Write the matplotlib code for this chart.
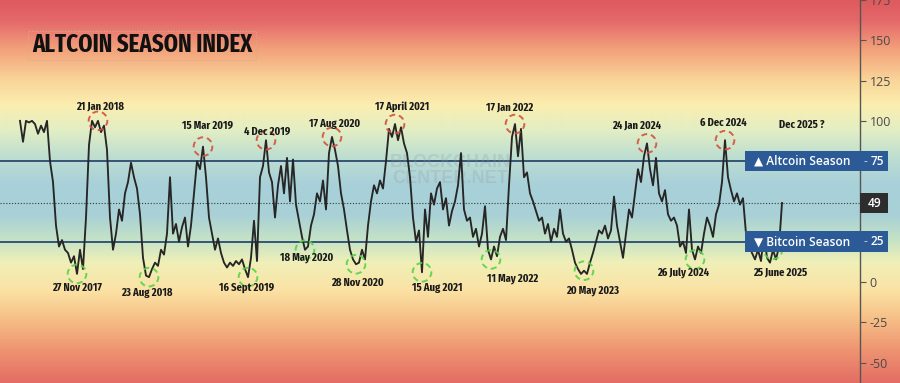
import numpy as np
import matplotlib
matplotlib.use("Agg")
import matplotlib.pyplot as plt
import matplotlib.transforms as mtransforms
from matplotlib.patches import Rectangle
from matplotlib.colors import to_rgb
from matplotlib import font_manager as fm

# ---------------- data ----------------
index_values = [
    100, 87, 100, 99, 100, 98, 92, 97, 93, 100,
    75, 62, 35, 22, 26, 20, 18, 12, 16, 5,
    20, 8, 40, 85, 100, 96, 100, 93, 97, 82,
    40, 20, 30, 45, 38, 55, 62, 74, 65, 58,
    42, 15, 4, 3, 8, 12, 10, 20, 17, 30,
    65, 30, 36, 25, 34, 40, 22, 35, 55, 75,
    70, 84, 65, 40, 30, 20, 27, 18, 12, 9,
    12, 10, 13, 11, 14, 8, 3, 15, 38, 13,
    65, 72, 88, 68, 62, 40, 60, 72, 55, 77,
    50, 76, 48, 38, 28, 20, 22, 35, 42, 55,
    50, 63, 45, 80, 90, 82, 72, 55, 45, 32,
    20, 14, 11, 12, 20, 14, 35, 50, 60, 55,
    63, 58, 75, 95, 90, 98, 88, 96, 86, 80,
    65, 40, 25, 32, 6, 45, 28, 55, 48, 58,
    62, 45, 52, 35, 44, 50, 60, 80, 45, 38,
    40, 28, 33, 22, 30, 47, 20, 14, 22, 16,
    28, 33, 26, 60, 90, 98, 78, 95, 65, 68,
    55, 50, 44, 38, 40, 30, 36, 25, 33, 28,
    45, 30, 25, 27, 20, 12, 8, 5, 7, 5,
    12, 18, 25, 32, 30, 35, 27, 32, 53, 35,
    25, 15, 30, 45, 40, 55, 70, 62, 78, 86,
    70, 60, 77, 55, 50, 57, 42, 38, 40, 35,
    22, 25, 18, 45, 20, 14, 22, 18, 30, 40,
    35, 28, 42, 48, 62, 88, 65, 57, 50, 55,
    48, 52, 30, 22, 18, 14, 20, 13, 30, 15,
    12, 20, 14, 22, 49,
]

peak_labels = ["21 Jan 2018", "15 Mar 2019", "4 Dec 2019", "17 Aug 2020",
               "17 April 2021", "17 Jan 2022", "24 Jan 2024", "6 Dec 2024"]
peak_idx = [26, 61, 82, 104, 125, 165, 209, 235]

trough_labels = ["27 Nov 2017", "23 Aug 2018", "16 Sept 2019", "18 May 2020",
                 "28 Nov 2020", "15 Aug 2021", "11 May 2022", "20 May 2023",
                 "26 July 2024", "25 June 2025"]
trough_idx = [19, 43, 76, 95, 112, 134, 157, 188, 225, 251]

future_label = "Dec 2025 ?"
right_ticks = [175, 150, 125, 100, 0, -25, -50]
altcoin_level = 75
bitcoin_level = 25
current_value = 49

# label offsets (pixels) relative to marked points
peak_offsets = [(2, 14), (4, 21), (1, 8), (3, 13), (7, 17), (-5, 17), (-10, 18), (-2, 17)]
trough_offsets = [(0, -14), (-2, -16), (-1, -11), (2, -8), (1, -19), (15, -16),
                  (22, -19), (9, -20), (-12, -13), (7, -23)]


# ---------------- pick the most condensed bold font installed ----------------
def find_condensed_bold():
    best = None
    for f in fm.fontManager.ttflist:
        name = f.name.lower().replace(" ", "")
        stretch = str(f.stretch).lower()
        fname = f.fname.lower()
        if "extracondensed" in name or "extracondensed" in fname or stretch == "extra-condensed":
            pri = 0
        elif "narrow" in name or "narrow" in fname:
            pri = 1
        elif ("semicondensed" in name or "semicondensed" in fname or
              stretch == "semi-condensed"):
            pri = 3
        elif "condensed" in name or "condensed" in fname or stretch == "condensed":
            pri = 2
        else:
            continue
        w = f.weight if isinstance(f.weight, int) else {"bold": 700, "semibold": 600,
                                                          "normal": 400}.get(str(f.weight), 400)
        if str(f.style).lower() != "normal" or w < 600:
            continue
        score = (pri, abs(w - 700))
        if best is None or score < best[0]:
            best = (score, f.fname)
    return best[1] if best else None


cond_path = find_condensed_bold()
if cond_path:
    lab_fp = fm.FontProperties(fname=cond_path, size=8)
    title_fp = fm.FontProperties(fname=cond_path, size=17)
else:
    lab_fp = fm.FontProperties(family="Roboto", weight="bold", size=7.4)
    title_fp = fm.FontProperties(family="Roboto", weight="bold", size=14)

# ---------------- figure ----------------
W, H = 900, 383
fig = plt.figure(figsize=(W / 100, H / 100), dpi=100)
renderer = fig.canvas.get_renderer()


def fit_size(fp, sample, target_px, max_size):
    t = fig.text(0, 0, sample, fontproperties=fp)
    wpx = t.get_window_extent(renderer).width
    t.remove()
    return min(fp.get_size_in_points() * target_px / wpx, max_size)


lab_fp.set_size(fit_size(lab_fp, "21 Jan 2018", 50, 8.2))
title_fp.set_size(fit_size(title_fp, "ALTCOIN SEASON INDEX", 220, 20))

# gradient background
stops_px = [0, 20, 50, 80, 105, 130, 155, 185, 215, 240, 262, 290, 320, 350, 383]
stop_cols = ["#de5a5d", "#e4686a", "#f3a37c", "#f9d699", "#fbeeb0", "#e2eec4",
             "#bfdfd0", "#a8d0da", "#a9d1d6", "#c6e3c6", "#f0f0b8", "#fbe2a4",
             "#f6bd86", "#ee9371", "#e36c64"]
rows = np.arange(H)
rgb = np.array([to_rgb(c) for c in stop_cols])
img = np.stack([np.interp(rows, stops_px, rgb[:, k]) for k in range(3)], axis=-1)
img = np.repeat(img[:, None, :], 2, axis=1)
bg = fig.add_axes([0, 0, 1, 1])
bg.imshow(img, aspect="auto", extent=[0, 1, 0, 1], interpolation="bilinear")
bg.set_xlim(0, 1); bg.set_ylim(0, 1)
bg.axis("off")

ax = fig.add_axes([0, 0, 860 / W, 1])
ax.patch.set_alpha(0)
x = np.arange(len(index_values))
vals = np.array(index_values, dtype=float)
ax.set_xlim(-20 / 3, 840 / 3)
ax.set_ylim(-62.7, 174.9)

ax.axhline(altcoin_level, color="#2b4a6f", lw=1.3, zorder=2)
ax.axhline(bitcoin_level, color="#2b4a6f", lw=1.3, zorder=2)
ax.axhline(current_value, color="#3a3a3a", lw=0.8, ls=(0, (1, 1.6)), zorder=2)

# watermark
ax.text(0.523, 0.555, "BLOCKCHAIN\nCENTER.NET", transform=ax.transAxes,
        ha="center", va="center", fontsize=13, color="#8a9aa0", alpha=0.25,
        fontweight="bold", linespacing=0.9, family=["Liberation Sans", "DejaVu Sans"])

ax.plot(x, vals, color="#262626", lw=1.35, zorder=4)

ax.scatter(peak_idx, vals[peak_idx], s=180, facecolors="none", edgecolors="#d4503f",
           linestyles=(0, (3, 2)), linewidths=1.4, zorder=5, alpha=0.9)
ax.scatter(trough_idx, vals[trough_idx], s=180, facecolors="none", edgecolors="#57d24a",
           linestyles=(0, (3, 2)), linewidths=1.4, zorder=5, alpha=0.9)

for lab, i, off in zip(peak_labels, peak_idx, peak_offsets):
    ax.annotate(lab, (i, vals[i]), xytext=off, textcoords="offset pixels",
                ha="center", va="center", fontproperties=lab_fp,
                color="#1a1a1a", zorder=6)
for lab, i, off in zip(trough_labels, trough_idx, trough_offsets):
    ax.annotate(lab, (i, vals[i]), xytext=off, textcoords="offset pixels",
                ha="center", va="center", fontproperties=lab_fp,
                color="#1a1a1a", zorder=6)
ax.annotate(future_label, (x[-1], vals[-1]), xytext=(20, 78), textcoords="offset pixels",
            ha="center", va="center", fontproperties=lab_fp,
            color="#1a1a1a", zorder=6)

# right axis
for s in ["top", "left", "bottom"]:
    ax.spines[s].set_visible(False)
ax.spines["right"].set_color("#555555")
ax.spines["right"].set_linewidth(1.0)
ax.set_xticks([])
ax.yaxis.tick_right()
ax.set_yticks(right_ticks)
ax.set_yticklabels([str(t) for t in right_ticks])
ax.tick_params(axis="y", length=4, color="#555555", labelcolor="#4a4a4a",
               labelsize=9, pad=3)
for t in ax.get_yticklabels():
    t.set_family(["Open Sans", "DejaVu Sans"])

# level boxes
trans = mtransforms.blended_transform_factory(ax.transAxes, ax.transData)
bx0, bx1 = 745 / 860, 888 / 860
box_font = ["Open Sans", "DejaVu Sans"]
for lvl, lab in [(altcoin_level, "\u25B2 Altcoin Season"), (bitcoin_level, "\u25BC Bitcoin Season")]:
    ax.add_patch(Rectangle((bx0, lvl - 6.4), bx1 - bx0, 12.8, transform=trans,
                           facecolor="#2c5a97", edgecolor="none", clip_on=False, zorder=7))
    ax.text(754 / 860, lvl, lab, transform=trans, ha="left", va="center",
            fontsize=8.6, color="white", fontweight="semibold", family=box_font,
            zorder=8, clip_on=False)
    ax.text(865 / 860, lvl, "-", transform=trans, ha="center", va="center",
            fontsize=8.6, color="#c8d4e4", family=box_font, zorder=8, clip_on=False)
    ax.text(877 / 860, lvl, str(lvl), transform=trans, ha="center", va="center",
            fontsize=8.6, color="white", fontweight="semibold", family=box_font,
            zorder=8, clip_on=False)

ax.add_patch(Rectangle((1.0, current_value - 6.0), 28 / 860, 12.0, transform=trans,
                       facecolor="#2d2d2d", edgecolor="none", clip_on=False, zorder=7))
ax.text(875 / 860, current_value, str(current_value), transform=trans, ha="center",
        va="center", fontsize=8.6, color="white", fontweight="semibold",
        family=box_font, zorder=8, clip_on=False)

# title
fig.text(142 / W, 1 - 45 / H, "ALTCOIN SEASON INDEX", ha="center", va="center",
         fontproperties=title_fp, color="#111111")
fig.add_artist(Rectangle((28 / W, 1 - 60 / H), 228 / W, 29 / H, transform=fig.transFigure,
                         facecolor="none", edgecolor="#d9a98a", lw=0.8, ls=(0, (1, 1.5))))

fig.savefig("out.png", dpi=100)
